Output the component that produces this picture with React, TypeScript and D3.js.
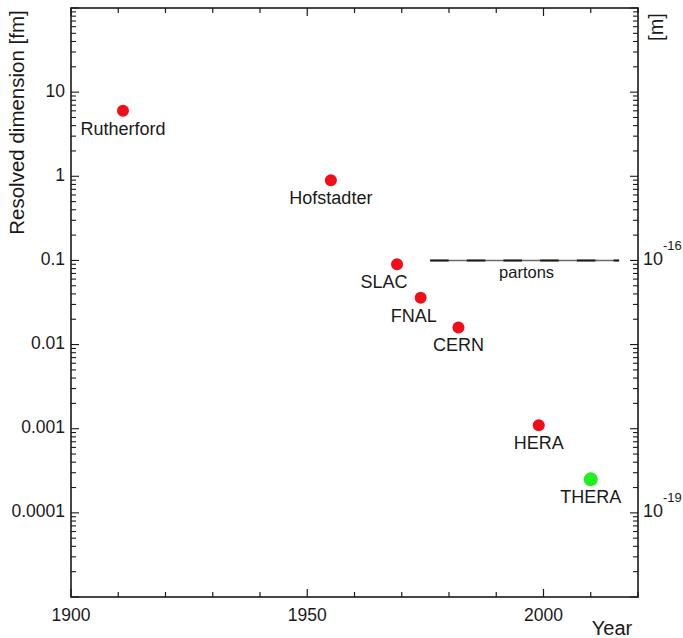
import React from "react";
import * as d3 from "d3";

const experiments = ["Rutherford", "Hofstadter", "SLAC", "FNAL", "CERN", "HERA", "THERA"];
const years = [1911, 1955, 1969, 1974, 1982, 1999, 2010];
const resolutionFm = [6, 0.9, 0.09, 0.036, 0.016, 0.0011, 0.00025];
const status = ["done", "done", "done", "done", "done", "done", "proposed"];

const yTickValues = [10, 1, 0.1, 0.01, 0.001, 0.0001];
const yTickLabels = ["10", "1", "0.1", "0.01", "0.001", "0.0001"];
const xTickValues = [1900, 1950, 2000];
const rightTickValues = [0.1, 0.0001];
const rightTickExponents = ["-16", "-19"];

const partonYears = [1976, 2016];
const partonScale = 0.1;
const partonLabel = "partons";

const W = 683;
const H = 638;
const M = { left: 71, right: 638, top: 8, bottom: 597 };
const FONT = "'Liberation Sans', Arial, Helvetica, sans-serif";
const INK = "#1a1a1a";

const labelShift: Record<string, number> = { SLAC: -13, FNAL: -7 };

export default function App() {
  const x = d3.scaleLinear().domain([1900, 2020]).range([M.left, M.right]);
  const y = d3.scaleLog().domain([1e-5, 100]).range([M.bottom, M.top]);

  const xMinor = d3.range(1900, 2021, 10);
  const yAll = y.ticks();
  const isMajorY = (v: number) => Math.abs(Math.log10(v) - Math.round(Math.log10(v))) < 1e-9;
  const isMajorX = (v: number) => v % 50 === 0;

  const majorLen = 8;
  const minorLen = 5;

  return (
    <svg
      width={W}
      height={H}
      style={{ position: "absolute", left: 0, top: 0, display: "block", background: "#fff" }}
      fontFamily={FONT}
    >
      {/* frame */}
      <rect
        x={M.left}
        y={M.top}
        width={M.right - M.left}
        height={M.bottom - M.top}
        fill="none"
        stroke={INK}
        strokeWidth={1.6}
      />

      {/* x ticks bottom & top */}
      {xMinor.map((v) => {
        const len = isMajorX(v) ? majorLen : minorLen;
        return (
          <g key={"xt" + v}>
            <line x1={x(v)} x2={x(v)} y1={M.bottom} y2={M.bottom - len} stroke={INK} strokeWidth={1.2} />
            <line x1={x(v)} x2={x(v)} y1={M.top} y2={M.top + len} stroke={INK} strokeWidth={1.2} />
          </g>
        );
      })}
      {xTickValues.map((v) => (
        <text key={"xl" + v} x={x(v)} y={621} textAnchor="middle" fontSize={17.5} fill={INK}>
          {v}
        </text>
      ))}
      <text x={612} y={635} textAnchor="middle" fontSize={20} fill={INK}>
        Year
      </text>

      {/* y ticks left & right */}
      {yAll.map((v, i) => {
        const len = isMajorY(v) ? majorLen : minorLen;
        const yy = y(v);
        return (
          <g key={"yt" + i}>
            <line x1={M.left} x2={M.left + len} y1={yy} y2={yy} stroke={INK} strokeWidth={1.1} />
            <line x1={M.right} x2={M.right - len} y1={yy} y2={yy} stroke={INK} strokeWidth={1.1} />
          </g>
        );
      })}
      {yTickValues.map((v, i) => (
        <text key={"yl" + v} x={65} y={y(v) + 4.5} textAnchor="end" fontSize={17.5} fill={INK}>
          {yTickLabels[i]}
        </text>
      ))}
      <text
        transform={`translate(24,122.5) rotate(-90)`}
        textAnchor="middle"
        fontSize={20.5}
        fill={INK}
      >
        Resolved dimension [fm]
      </text>

      {/* right axis labels (meters) */}
      {rightTickValues.map((v, i) => (
        <text key={"rl" + v} x={643} y={y(v) + 4.5} fontSize={18} fill={INK}>
          10
          <tspan dy={-15} fontSize={13}>
            {rightTickExponents[i]}
          </tspan>
        </text>
      ))}
      <text transform={`translate(663,27) rotate(-90)`} textAnchor="middle" fontSize={20} fill={INK}>
        [m]
      </text>

      {/* partons line */}
      <line
        x1={x(partonYears[0])}
        x2={x(partonYears[1])}
        y1={y(partonScale)}
        y2={y(partonScale)}
        stroke="#6a6a6a"
        strokeWidth={1.6}
      />
      <line
        x1={x(partonYears[0])}
        x2={x(partonYears[1])}
        y1={y(partonScale)}
        y2={y(partonScale)}
        stroke={INK}
        strokeWidth={2}
        strokeDasharray="18.5 18.2"
      />
      <text
        x={(x(partonYears[0]) + x(partonYears[1])) / 2 + 2}
        y={y(partonScale) + 18}
        textAnchor="middle"
        fontSize={16.5}
        fill={INK}
      >
        {partonLabel}
      </text>

      {/* experiments */}
      {experiments.map((name, i) => {
        const cx = x(years[i]);
        const cy = y(resolutionFm[i]);
        const proposed = status[i] === "proposed";
        return (
          <g key={name}>
            <circle cx={cx} cy={cy} r={proposed ? 7 : 6} fill={proposed ? "#22ee22" : "#f20d19"} />
            <text
              x={cx + (labelShift[name] || 0)}
              y={cy + 24}
              textAnchor="middle"
              fontSize={18}
              fill={INK}
            >
              {name}
            </text>
          </g>
        );
      })}
    </svg>
  );
}
